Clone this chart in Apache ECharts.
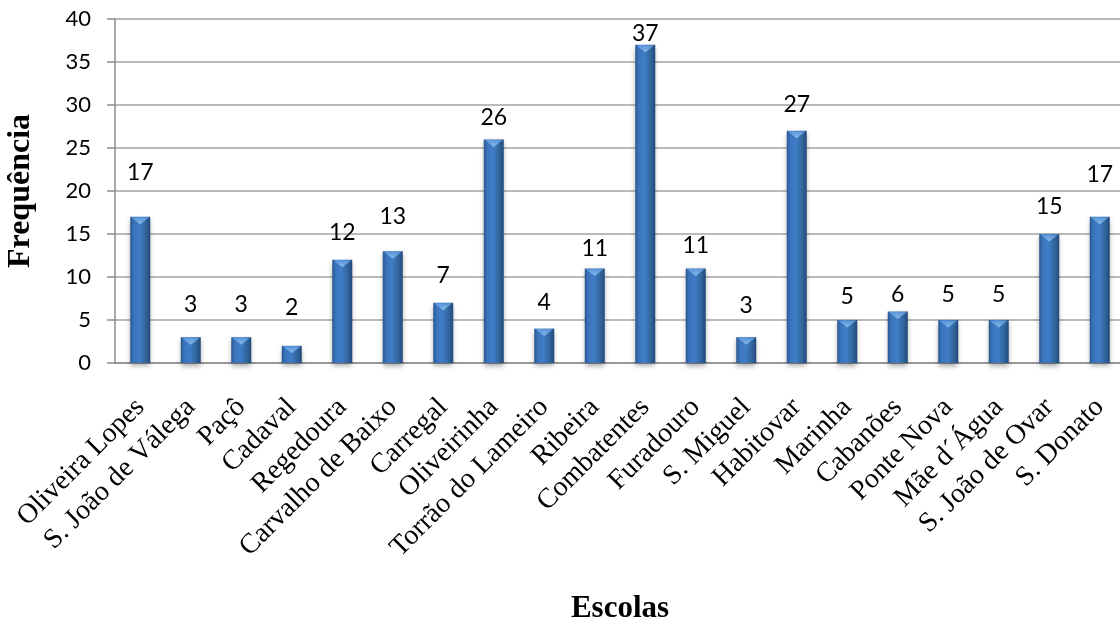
<!DOCTYPE html>
<html>
<head>
<meta charset="utf-8">
<title>Frequência por escola</title>
<script src="https://cdn.jsdelivr.net/npm/echarts@6/dist/echarts.min.js"></script>
<style>
  html, body { margin: 0; padding: 0; background: #ffffff; }
  #chart { width: 1120px; height: 626px; }
</style>
</head>
<body>
<div id="chart"></div>
<script>
// School names (category axis)
const escolas = [
  'Oliveira Lopes', 'S. João de Válega', 'Paçô', 'Cadaval', 'Regedoura',
  'Carvalho de Baixo', 'Carregal', 'Oliveirinha', 'Torrão do Lameiro', 'Ribeira',
  'Combatentes', 'Furadouro', 'S. Miguel', 'Habitovar', 'Marinha',
  'Cabanões', 'Ponte Nova', 'Mãe d´Água', 'S. João de Ovar', 'S. Donato'
];

// Frequency per school
const frequencia = [17, 3, 3, 2, 12, 13, 7, 26, 4, 11, 37, 11, 3, 27, 5, 6, 5, 5, 15, 17];

// Value axis ticks
const yTicks = [0, 5, 10, 15, 20, 25, 30, 35, 40];

// Space (px) between each bar top and its value label
const labelLift = [33, 21, 21, 27, 16, 23, 16, 10, 15, 8, 0, 11, 20, 15, 12, 5, 14, 14, 16, 31];

const chart = echarts.init(document.getElementById('chart'), null, { renderer: 'canvas' });

const barFill = new echarts.graphic.LinearGradient(0, 0, 1, 0, [
  { offset: 0, color: '#2a5791' },
  { offset: 0.18, color: '#3b74bb' },
  { offset: 0.45, color: '#3f7dc8' },
  { offset: 0.75, color: '#33689f' },
  { offset: 1, color: '#22497c' }
]);

const capFill = new echarts.graphic.LinearGradient(0, 0, 0, 1, [
  { offset: 0, color: '#9cc9f3' },
  { offset: 1, color: '#5d9be0' }
]);

chart.setOption({
  animation: false,
  backgroundColor: '#ffffff',
  grid: {
    left: 115, right: -5, top: 19, bottom: 263,
    containLabel: false,
    outerBoundsMode: 'none'
  },
  xAxis: {
    type: 'category',
    data: escolas,
    name: 'Escolas',
    nameLocation: 'middle',
    nameGap: 230,
    nameMoveOverlap: false,
    nameTextStyle: { fontFamily: 'Liberation Serif', fontWeight: 'bold', fontSize: 31, color: '#000' },
    axisLine: { lineStyle: { color: '#8c8c8c', width: 1.5 } },
    axisTick: { show: false },
    axisLabel: {
      interval: 0,
      rotate: 45,
      margin: 40,
      fontFamily: 'Liberation Serif',
      fontSize: 28,
      color: '#000'
    },
    splitLine: { show: false }
  },
  yAxis: {
    type: 'value',
    min: yTicks[0],
    max: yTicks[yTicks.length - 1],
    interval: yTicks[1] - yTicks[0],
    name: 'Frequência',
    nameLocation: 'middle',
    nameGap: 78,
    nameRotate: 90,
    nameMoveOverlap: false,
    nameTextStyle: { fontFamily: 'Liberation Serif', fontWeight: 'bold', fontSize: 32, color: '#000' },
    axisLine: { show: true, lineStyle: { color: '#8c8c8c', width: 1.5 } },
    axisTick: { show: true, inside: false, length: 8, lineStyle: { color: '#8c8c8c', width: 1.5 } },
    axisLabel: { margin: 24, fontFamily: 'Lato', fontSize: 22, color: '#000' },
    splitLine: { show: true, lineStyle: { color: '#a3a3a3', width: 1.5 } }
  },
  series: [
    {
      type: 'bar',
      data: frequencia.map((v, i) => ({
        value: v,
        label: { distance: labelLift[i] }
      })),
      barWidth: 20,
      itemStyle: {
        color: barFill,
        shadowColor: 'rgba(0,0,0,0.35)',
        shadowBlur: 5,
        shadowOffsetY: 3
      },
      label: {
        show: true,
        position: 'top',
        fontFamily: 'Lato',
        fontSize: 23,
        color: '#000'
      },
      z: 2
    },
    {
      // bevelled cap on top of each bar
      type: 'scatter',
      data: frequencia,
      symbol: 'triangle',
      symbolRotate: 180,
      symbolSize: [18, 7],
      symbolOffset: [0, 4],
      itemStyle: { color: capFill },
      silent: true,
      z: 3
    }
  ]
});
</script>
</body>
</html>
